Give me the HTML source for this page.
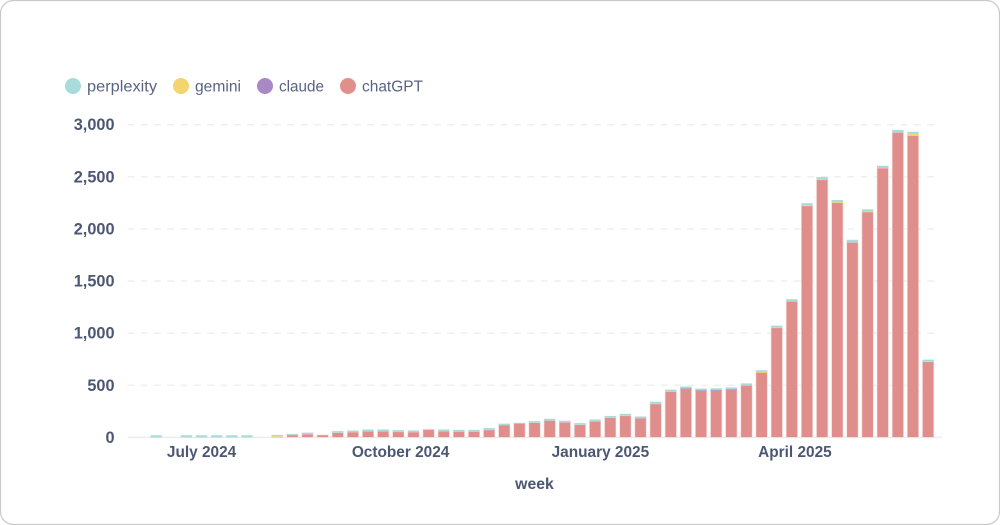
<!DOCTYPE html>
<html>
<head>
<meta charset="utf-8">
<style>
html,body{margin:0;padding:0;background:#fff;}
svg{display:block;}
text{font-family:"Liberation Sans",sans-serif;}
</style>
</head>
<body>
<svg id="chart" xmlns="http://www.w3.org/2000/svg" width="1000" height="525" viewBox="0 0 1000 525">
<rect x="0.5" y="0.5" width="999" height="524" rx="13" fill="#fff" stroke="#c9c9c9" stroke-width="1.2"/>
<g id="grid"></g>
<g id="bars"></g>
<g id="yticks"></g>
<g id="xticks"></g>
<g id="legend"></g>
<text x="534.5" y="489" text-anchor="middle" font-size="15.8" font-weight="bold" fill="#4c5773">week</text>
</svg>
<script>
const chatGPT = [0,0,0,0,0,0,0,0,0,6,24,32,24,46,52,60,60,54,52,76,60,57,57,72,120,136,142,163,146,122,156,190,208,186,322,440,466,448,450,458,500,624,1052,1306,2222,2472,2252,1872,2164,2584,2926,2896,726];
const claude = [0,0,0,0,0,0,0,0,0,0,0,0,0,0,0,0,0,0,0,0,0,0,0,0,0,0,0,0,0,0,0,0,0,0,0,0,4,4,4,3,0,0,0,0,0,0,0,0,0,0,0,0,0];
const gemini = [0,0,0,0,0,0,0,0,0,6,0,0,0,0,0,0,0,0,0,0,0,0,0,0,0,0,0,0,0,0,0,0,0,0,0,0,0,0,0,0,0,4,0,0,5,5,5,0,4,0,0,16,0];
const perplexity = [0,20,0,20,20,20,20,20,0,12,10,14,0,14,14,16,16,16,15,2,16,16,16,17,12,3,14,16,14,15,16,16,18,15,20,18,18,16,17,18,18,16,20,20,20,20,20,24,20,22,24,20,20];
const seriesList = [
  {name:'chatGPT', values:chatGPT, color:'#e08e8b'},
  {name:'claude', values:claude, color:'#a989c5'},
  {name:'gemini', values:gemini, color:'#f1d26c'},
  {name:'perplexity', values:perplexity, color:'#a5dbd9'}
];
const yTicks = [0,500,1000,1500,2000,2500,3000];
const xTickLabels = ['July 2024','October 2024','January 2025','April 2025'];
const xTickWeeks = [4,17.15,30.35,43.2];
const legendNames = ['perplexity','gemini','claude','chatGPT'];
const legendColors = ['#a7dcda','#f3d56f','#a989c5','#e28f8c'];
const legendCx = [73,181,265,348];
const legendTextWidths = [70,46,45,61];

const NS = 'http://www.w3.org/2000/svg';
const X0 = 141, STEP = 15.137, BARW = 11.4, Y0 = 437.4, PX_PER_UNIT = 312.7/3000;
function xScale(i){ return X0 + STEP*i; }
function yScale(v){ return Y0 - v*PX_PER_UNIT; }
function mk(tag, attrs, parent, txt){
  const el = document.createElementNS(NS, tag);
  for(const k in attrs){ el.setAttribute(k, attrs[k]); }
  if(txt !== undefined){ el.textContent = txt; }
  parent.appendChild(el);
  return el;
}
const grid = document.getElementById('grid');
const yG = document.getElementById('yticks');
yTicks.forEach(function(t){
  const y = yScale(t);
  const line = mk('line', {x1:127.5, x2:t===0?942:937, y1:y, y2:y, stroke:t===0?'#ececec':'#eeeeee', 'stroke-width':t===0?1.5:1.3, 'stroke-dasharray':t===0?'none':'6.7 6.63'}, grid);
  
  
  const label = mk('text', {x:114.5, y:y+5.5, 'text-anchor':'end', 'font-size':16.3, 'font-weight':'bold', fill:'#4c5773'}, yG, t.toLocaleString('en-US'));
  
  
});
const xG = document.getElementById('xticks');
xTickLabels.forEach(function(lbl, i){
  const label = mk('text', {x:xScale(xTickWeeks[i]), y:457, 'text-anchor':'middle', 'font-size':15.4, 'font-weight':'bold', fill:'#4c5773'}, xG, lbl);
  
  
});
const barsG = document.getElementById('bars');
chatGPT.forEach(function(_, i){
  let cum = 0;
  seriesList.forEach(function(s){
    const v = s.values[i];
    if(v <= 0){ return; }
    const yTop = yScale(cum + v);
    const yBot = yScale(cum);
    const bar = mk('rect', {x:xScale(i)-BARW/2, y:yTop, width:BARW, height:Math.max(yBot-yTop, 0.8), fill:s.color, stroke:'#f7dedd', 'stroke-opacity':s.name==='chatGPT'?0.9:0, 'stroke-width':0.7}, barsG);
    
    
    cum += v;
  });
});
const legend = document.getElementById('legend');
legendNames.forEach(function(n, i){
  const dot = mk('circle', {cx:legendCx[i], cy:86, r:8, fill:legendColors[i]}, legend);
  
  
  const label = mk('text', {x:legendCx[i]+14, y:91.3, 'font-size':15.5, textLength:legendTextWidths[i], lengthAdjust:'spacingAndGlyphs', fill:'#5a6482'}, legend, n);
  
  
});
</script>
</body>
</html>
